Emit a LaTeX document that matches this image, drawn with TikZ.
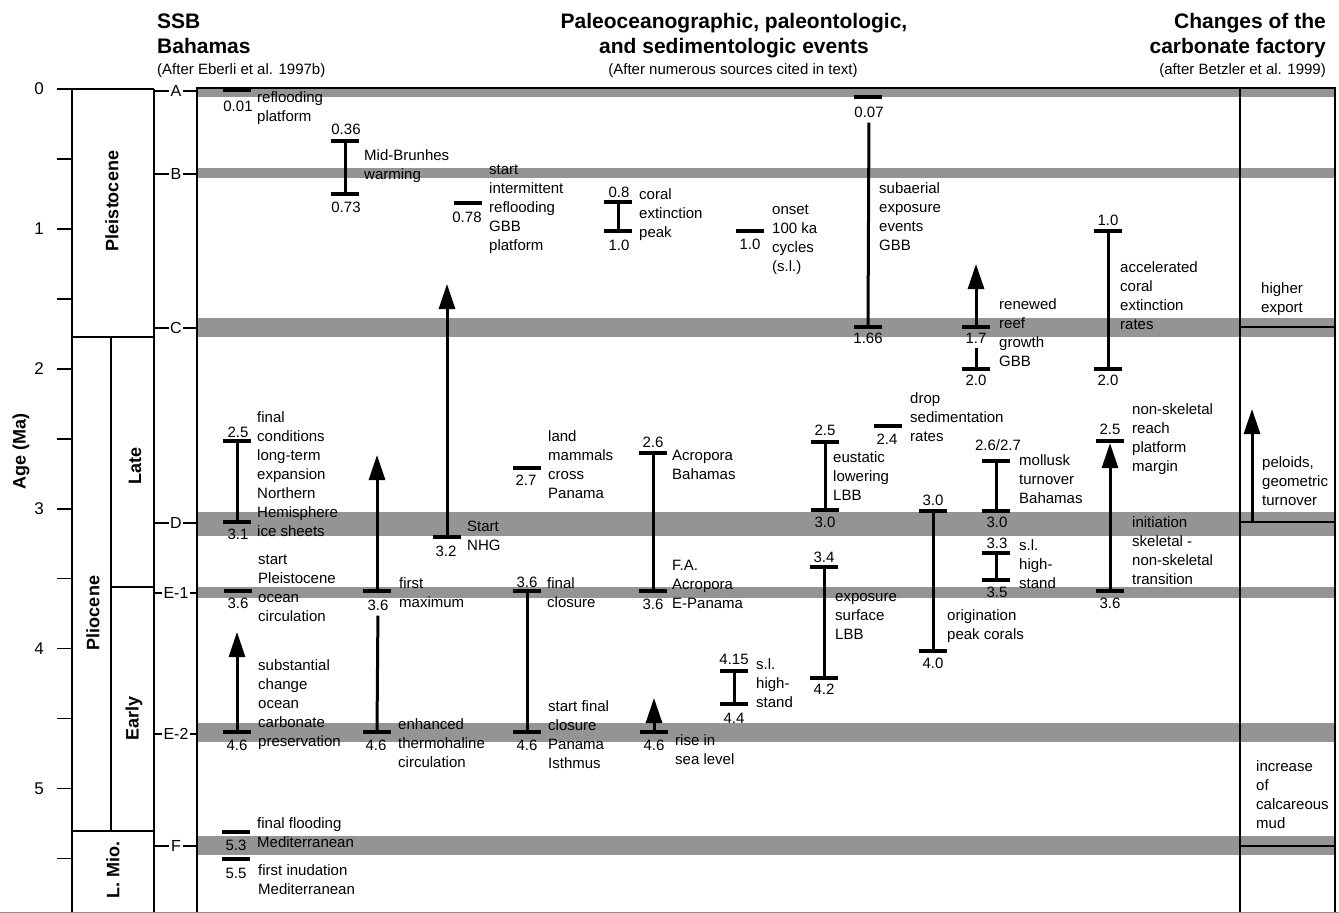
\documentclass[tikz,border=0pt]{standalone}
\usepackage{fontspec}
\setmainfont{Liberation Sans}
\usetikzlibrary{arrows.meta}

\begin{document}
\begin{tikzpicture}[x=1pt,y=-1pt,
    band/.style={fill=black!42},
    frame/.style={line width=1.6pt},
    vline/.style={line width=3pt},
    upto/.style={vline,-{Triangle[width=16pt,length=25pt]}},
    barend/.style={fill=black,inner sep=0,minimum width=28pt,minimum height=3.8pt},
    num/.style={font=\fontsize{15}{17}\selectfont,inner sep=0},
    txt/.style={font=\fontsize{15}{19}\selectfont,align=left,anchor=north west,
      inner sep=0,yshift=8.3pt,execute at begin node=\strut},
    seq/.style={font=\fontsize{16}{18}\selectfont,inner sep=1.5pt},
    epoch/.style={font=\bfseries\fontsize{18}{20}\selectfont,rotate=90},
    head/.style={font=\bfseries\fontsize{21}{24}\selectfont,inner sep=0},
    src/.style={font=\fontsize{15}{17}\selectfont,inner sep=0}]

\useasboundingbox (0,0) rectangle (1339,913);

% sequence boundaries (grey bands)
\fill[band] (197,89) rectangle (1335,97);
\fill[band] (197,168) rectangle (1335,178);
\fill[band] (197,318) rectangle (1335,337);
\fill[band] (197,512) rectangle (1335,536);
\fill[band] (197,587) rectangle (1335,598);
\fill[band] (197,723) rectangle (1335,742);
\fill[band] (197,836) rectangle (1335,855);

% headers
\node[head,anchor=base west] (hssb) at (157,28) {SSB};
\node[head,anchor=base west] (hbah) at (157,53) {Bahamas};
\node[src,anchor=base west] (hebe) at (157,74) {(After Eberli et al. 1997b)};
\node[head,anchor=base] (hpal) at (734,28) {Paleoceanographic, paleontologic,};
\node[head,anchor=base] (hsed) at (734,53) {and sedimentologic events};
\node[src,anchor=base] (hnum) at (733,74) {(After numerous sources cited in text)};
\node[head,anchor=base east] (hcha) at (1326,28) {Changes of the};
\node[head,anchor=base east] (hcar) at (1326,53) {carbonate factory};
\node[src,anchor=base east] (hbet) at (1326,74) {(after Betzler et al. 1999)};

% age axis and epochs
\foreach \k in {0,...,11}
  \draw[frame] (57,{89+69.95*\k}) -- (72,{89+69.95*\k});
\foreach \a in {0,...,5}
  \node[font=\fontsize{17}{19}\selectfont] (age\a) at (39,{89+139.9*\a}) {\a};
\node[epoch] (agelab) at (21,451) {Age (Ma)};
\draw[frame] (72,89) -- (154,89);
\draw[frame] (72,89) -- (72,913);
\draw[frame] (154,89) -- (154,913);
\draw[frame] (197,89) -- (197,913);
\draw[frame] (1240,89) -- (1240,913);
\draw[frame] (1335,89) -- (1335,913);
\draw[line width=2.6pt] (196,88) -- (1336,88);
\draw[frame] (72,337) -- (154,337);
\draw[frame] (111,337) -- (111,831);
\draw[frame] (111,587) -- (154,587);
\draw[frame] (72,831) -- (154,831);
\draw[black!45,line width=0.8pt] (0,912.5) -- (1339,912.5);
\node[epoch] (pleis) at (112,201) {Pleistocene};
\node[epoch] (late) at (135,466) {Late};
\node[epoch] (plio) at (93,613) {Pliocene};
\node[epoch] (early) at (134,718) {Early};
\node[epoch] (lmio) at (113,870) {L. Mio.};

% sequence boundary labels
\foreach \s/\y in {A/91,B/174,C/328,D/523,E-1/593,E-2/734,F/846} {
  \node[seq] (sb\s) at (176,\y) {\s};
  \draw[frame] (154,\y) -- (sb\s.west);
  \draw[frame] (sb\s.east) -- (197,\y);
}

% events, left to right
\node[barend] (r001) at (237,90.5) {};
\node[num] (n001) at (238,106) {0.01};
\node[txt] (t001) at (257,100) {reflooding\\platform};

\node[barend] (nh25) at (237,441) {};
\node[barend] (nh31) at (237,522) {};
\draw[vline] (nh25) -- (nh31);
\node[num] (n25a) at (238,432) {2.5};
\node[num] (n31a) at (238,534) {3.1};
\node[txt] (tnhe) at (257,420) {final\\conditions\\long-term\\expansion\\Northern\\Hemisphere\\ice sheets};

\node[barend] (sp36) at (238,591) {};
\node[num] (n36a) at (238,603) {3.6};
\node[txt] (tspo) at (258,563) {start\\Pleistocene\\ocean\\circulation};

\node[barend] (sc46) at (237,732) {};
\coordinate (sc38) at (237,632);
\draw[upto] (sc46) -- (sc38);
\node[num] (n46a) at (237,745) {4.6};
\node[txt] (tsco) at (258,668) {substantial\\change\\ocean\\carbonate\\preservation};

\node[barend] (ff53) at (235.5,832) {};
\node[num] (n53) at (236,845) {5.3};
\node[txt] (tffm) at (257,826) {final flooding\\Mediterranean};
\node[barend] (fi55) at (235.5,859) {};
\node[num] (n55) at (236,873) {5.5};
\node[txt] (tfim) at (258,873) {first inudation\\Mediterranean};

\node[barend] (mb36) at (345,141) {};
\node[barend] (mb73) at (345,194) {};
\draw[vline] (mb36) -- (mb73);
\node[num] (n036) at (346,129) {0.36};
\node[num] (n073) at (346,207) {0.73};
\node[txt] (tmbw) at (364,158) {Mid-Brunhes\\warming};

\node[barend] (fm36) at (377,591) {};
\coordinate (fm26) at (377,455);
\draw[upto] (fm36) -- (fm26);
\node[num] (n36b) at (378,605) {3.6};
\node[txt] (tfmx) at (399,586) {first\\maximum};
\node[barend] (eh46) at (377,732) {};
\draw[vline,shorten <=5pt] (n36b) -- (eh46);
\node[num] (n46b) at (376,745) {4.6};
\node[txt] (teth) at (398,727) {enhanced\\thermohaline\\circulation};

\node[barend] (ng32) at (447,537) {};
\coordinate (ng14) at (447,284);
\draw[upto] (ng32) -- (ng14);
\node[num] (n32) at (446,551) {3.2};
\node[txt] (tnhg) at (467,529) {Start\\NHG};

\node[barend] (ir78) at (468,203) {};
\node[num] (n078) at (467,217) {0.78};
\node[txt] (tirg) at (489,173) {start\\intermittent\\reflooding\\GBB\\platform};

\node[barend] (lm27) at (527,468) {};
\node[num] (n27) at (526,480) {2.7};
\node[txt] (tlmc) at (548,439) {land\\mammals\\cross\\Panama};

\node[barend] (fc36) at (527,591) {};
\node[barend] (fc46) at (527,732) {};
\draw[vline] (fc36) -- (fc46);
\node[num] (n36c) at (527,582) {3.6};
\node[num] (n46c) at (527,745) {4.6};
\node[txt] (tfcl) at (547,586) {final\\closure};
\node[txt] (tsfc) at (548,709) {start final\\closure\\Panama\\Isthmus};

\node[barend] (ce08) at (618,202) {};
\node[barend] (ce10) at (618,231) {};
\draw[vline] (ce08) -- (ce10);
\node[num] (n08) at (619,192) {0.8};
\node[num] (n10a) at (619,245) {1.0};
\node[txt] (tcep) at (639,197) {coral\\extinction\\peak};

\node[barend] (ac26) at (653,453) {};
\node[barend] (ac36) at (653,591) {};
\draw[vline] (ac26) -- (ac36);
\node[num] (n26) at (653,442) {2.6};
\node[num] (n36d) at (653,604) {3.6};
\node[txt] (tacb) at (672,458) {Acropora\\Bahamas};
\node[txt] (tfaa) at (672,568) {F.A.\\Acropora\\E-Panama};

\node[barend] (rs46) at (654,732) {};
\coordinate (rs43) at (654,698);
\draw[upto] (rs46) -- (rs43);
\node[num] (n46d) at (654,745) {4.6};
\node[txt] (trsl) at (675,743) {rise in\\sea level};

\node[barend] (hs415) at (734,671) {};
\node[barend] (hs44) at (734,704) {};
\draw[vline] (hs415) -- (hs44);
\node[num] (n415) at (734,659) {4.15};
\node[num] (n44) at (734,718) {4.4};
\node[txt] (tslh) at (756,667) {s.l.\\high-\\stand};

\node[barend] (oc10) at (750,231) {};
\node[num] (n10b) at (750,244) {1.0};
\node[txt] (tonc) at (772,213) {onset\\100 ka\\cycles\\(s.l.)};

\node[barend] (el25) at (825,442) {};
\node[barend] (el30) at (825,510) {};
\draw[vline] (el25) -- (el30);
\node[num] (n25b) at (825,430) {2.5};
\node[num] (n30a) at (825,522) {3.0};
\node[txt] (teul) at (833,460) {eustatic\\lowering\\LBB};

\node[barend] (ex34) at (824,567) {};
\node[barend] (ex42) at (824,678) {};
\draw[vline] (ex34) -- (ex42);
\node[num] (n34) at (824,557) {3.4};
\node[num] (n42) at (824,689) {4.2};
\node[txt] (texs) at (835,602) {exposure\\surface\\LBB};

\node[barend] (se007) at (868,97) {};
\node[num] (n007) at (869,112) {0.07};
\node[barend] (se166) at (868,327) {};
\draw[vline,shorten <=5pt] (n007) -- (se166);
\node[num] (n166) at (868,338) {1.66};
\node[txt] (tsae) at (879,191) {subaerial\\exposure\\events\\GBB};

\node[barend] (ds24) at (888,426) {};
\node[num] (n24) at (887,439) {2.4};
\node[txt] (tdsr) at (910,401) {drop\\sedimentation\\rates};

\node[barend] (op30) at (933,511) {};
\node[barend] (op40) at (933,651) {};
\draw[vline] (op30) -- (op40);
\node[num] (n30b) at (933,500) {3.0};
\node[num] (n40) at (933,663) {4.0};
\node[txt] (topc) at (947,618) {origination\\peak corals};

\node[barend] (rr17) at (976,327) {};
\coordinate (rr13) at (976,264);
\draw[upto] (rr17) -- (rr13);
\node[num] (n17) at (976,338) {1.7};
\node[barend] (rr20) at (976,369) {};
\draw[vline,shorten <=5pt] (n17) -- (rr20);
\node[num] (n20a) at (976,380) {2.0};
\node[txt] (trrg) at (999,307) {renewed\\reef\\growth\\GBB};

\node[barend] (mt26) at (996,461) {};
\node[barend] (mt30) at (996,511) {};
\draw[vline] (mt26) -- (mt30);
\node[num] (n2627) at (998,445) {2.6/2.7};
\node[num] (n30c) at (997,522) {3.0};
\node[txt] (tmtb) at (1019,463) {mollusk\\turnover\\Bahamas};

\node[barend] (sh33) at (996,553) {};
\node[barend] (sh35) at (996,580) {};
\draw[vline] (sh33) -- (sh35);
\node[num] (n33) at (997,543) {3.3};
\node[num] (n35) at (997,592) {3.5};
\node[txt] (tshs) at (1019,548) {s.l.\\high-\\stand};

\node[barend] (ae10) at (1108,231) {};
\node[barend] (ae20) at (1108,369) {};
\draw[vline] (ae10) -- (ae20);
\node[num] (n10c) at (1108,220) {1.0};
\node[num] (n20b) at (1108,380) {2.0};
\node[txt] (tace) at (1120,270) {accelerated\\coral\\extinction\\rates};

\node[barend] (ns25) at (1110,441) {};
\node[barend] (ns36) at (1110,591) {};
\draw[upto] (ns36) -- (ns25);
\node[num] (n25c) at (1110,429) {2.5};
\node[num] (n36e) at (1110,603) {3.6};
\node[txt] (tnsr) at (1132,412) {non-skeletal\\reach\\platform\\margin};
\node[txt] (tini) at (1132,525) {initiation\\skeletal -\\non-skeletal\\transition};

% carbonate factory column
\draw[frame] (1240,327) -- (1335,327);
\draw[frame] (1240,522) -- (1335,522);
\draw[frame] (1240,846) -- (1335,846);
\coordinate (pg31) at (1252,522);
\coordinate (pg23) at (1252,409);
\draw[upto] (pg31) -- (pg23);
\node[txt] (thex) at (1261,291) {higher\\export};
\node[txt] (tpgt) at (1262,465) {peloids,\\geometric\\turnover};
\node[txt] (tccm) at (1256,769) {increase\\of\\calcareous\\mud};
\end{tikzpicture}
\end{document}
